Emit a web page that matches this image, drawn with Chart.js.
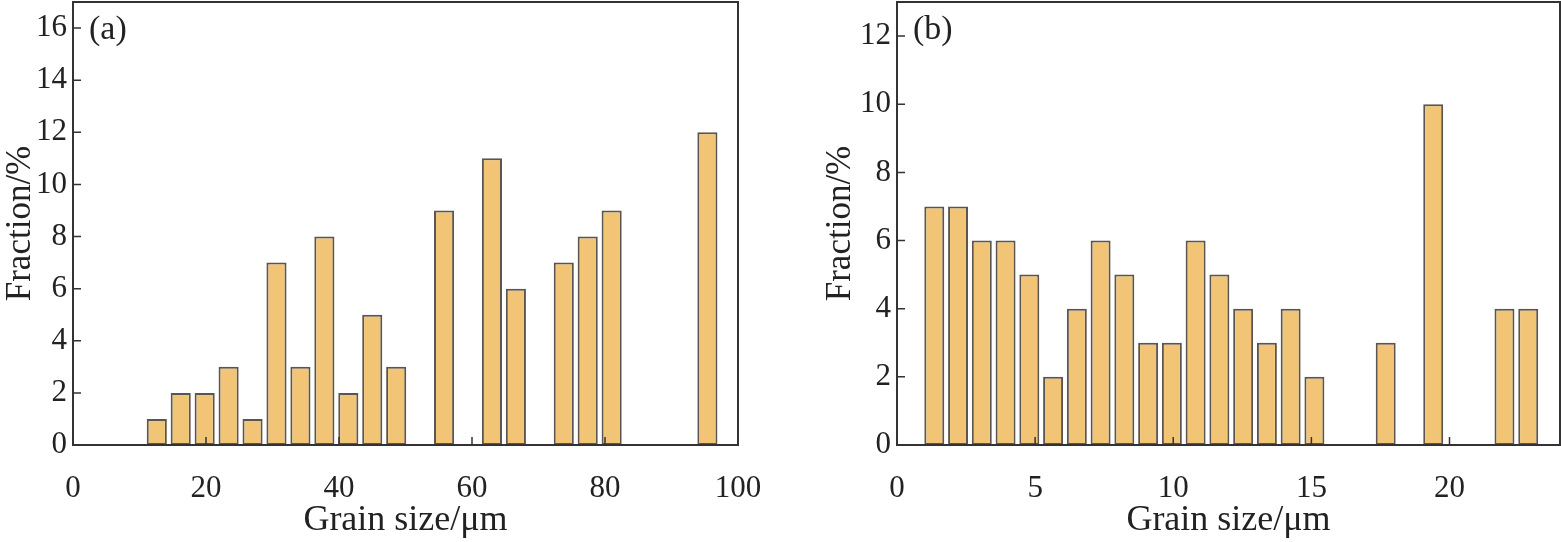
<!DOCTYPE html>
<html>
<head>
<meta charset="utf-8">
<script src="https://cdn.jsdelivr.net/npm/chart.js@4.4.1/dist/chart.umd.min.js"></script>
<style>
  html, body { margin: 0; padding: 0; background: #fff; }
  .panel { position: absolute; top: 0; }
</style>
</head>
<body>
<div class="panel" style="left:0px"><canvas id="chartA" width="790" height="542"></canvas></div>
<div class="panel" style="left:820px"><canvas id="chartB" width="741" height="542"></canvas></div>
<script>
// (a) grain size bins (um) and fractions (%)
const sizeA = [12.6, 16.2, 19.8, 23.4, 27.0, 30.6, 34.2, 37.8, 41.4, 45.0, 48.6, 55.8, 63.0, 66.6, 73.8, 77.4, 81.0, 95.4];
const fracA = [1, 2, 2, 3, 1, 7, 3, 8, 2, 5, 3, 9, 11, 6, 7, 8, 9, 12];

// (b)
const sizeB = [1.35, 2.21, 3.07, 3.93, 4.79, 5.65, 6.51, 7.37, 8.23, 9.09, 9.95, 10.81, 11.67, 12.53, 13.39, 14.25, 15.11, 17.69, 19.41, 21.99, 22.85];
const fracB = [7, 7, 6, 6, 5, 2, 4, 6, 5, 3, 3, 6, 5, 4, 3, 4, 2, 3, 10, 4, 4];

// axis ranges / tick steps
const xRangeA = [0, 100], xStepA = 20, yRangeA = [0, 17], yStepA = 2;
const xRangeB = [0, 24], xStepB = 5, yRangeB = [0, 13], yStepB = 2;

const FONT = "'Liberation Serif', 'Times New Roman', serif";
const AXIS = '#333';
const TEXT = '#222';

// box around the plot, inward ticks and the (a)/(b) label
const framePlugin = {
    id: 'frame',
    afterDatasetsDraw(chart, args, opts) {
        const {ctx, chartArea: {left, top, right, bottom}, scales: {x, y}} = chart;
        ctx.save();
        ctx.strokeStyle = AXIS;
        ctx.lineWidth = 2;
        ctx.strokeRect(left, top, right - left, bottom - top);
        ctx.lineWidth = 1.5;
        ctx.beginPath();
        x.ticks.forEach(t => {
            const px = x.getPixelForValue(t.value);
            if (px > left + 2 && px < right - 2) {
                ctx.moveTo(px, bottom);
                ctx.lineTo(px, bottom - 8);
            }
        });
        y.ticks.forEach(t => {
            const py = y.getPixelForValue(t.value);
            if (py < bottom - 2 && py > top + 2) {
                ctx.moveTo(left, py);
                ctx.lineTo(left + 8, py);
            }
        });
        ctx.stroke();
        ctx.fillStyle = TEXT;
        ctx.font = '34px ' + FONT;
        ctx.textBaseline = 'middle';
        ctx.textAlign = 'left';
        ctx.fillText(opts.text, left + 16, top + 28);
        ctx.restore();
    }
};

function makeChart(id, sizes, fracs, xRange, xStep, yRange, yStep, label, yWidth, padRight) {
    const points = sizes.map((s, i) => ({x: s, y: fracs[i]}));
    return new Chart(document.getElementById(id), {
        type: 'bar',
        data: {
            datasets: [{
                data: points,
                backgroundColor: '#F2C475',
                borderColor: '#5A5550',
                borderWidth: 2,
                borderSkipped: false,
                barPercentage: 0.84,
                categoryPercentage: 1
            }]
        },
        options: {
            responsive: false,
            animation: false,
            layout: { padding: { top: 2, right: padRight, left: 0, bottom: 0 } },
            plugins: {
                legend: { display: false },
                tooltip: { enabled: false },
                frame: { text: label }
            },
            scales: {
                x: {
                    type: 'linear',
                    min: xRange[0],
                    max: xRange[1],
                    offset: false,
                    grid: { display: false, drawTicks: false },
                    border: { display: false },
                    ticks: {
                        stepSize: xStep,
                        includeBounds: false,
                        padding: 25,
                        maxRotation: 0,
                        color: TEXT,
                        font: { family: FONT, size: 31 }
                    },
                    title: {
                        display: true,
                        text: 'Grain size/μm',
                        color: TEXT,
                        padding: 0,
                        font: { family: FONT, size: 36 }
                    },
                    afterFit(scale) {
                        scale.height = 97;
                        scale.paddingLeft = 0;
                        scale.paddingRight = 0;
                    }
                },
                y: {
                    min: yRange[0],
                    max: yRange[1],
                    grid: { display: false, drawTicks: false },
                    border: { display: false },
                    ticks: {
                        stepSize: yStep,
                        includeBounds: false,
                        padding: 6,
                        color: TEXT,
                        font: { family: FONT, size: 31 }
                    },
                    title: {
                        display: true,
                        text: 'Fraction/%',
                        color: TEXT,
                        padding: 0,
                        font: { family: FONT, size: 35 }
                    },
                    afterFit(scale) {
                        scale.width = yWidth;
                        scale.paddingTop = 0;
                        scale.paddingBottom = 0;
                    }
                }
            }
        },
        plugins: [framePlugin]
    });
}

makeChart('chartA', sizeA, fracA, xRangeA, xStepA, yRangeA, yStepA, '(a)', 73, 52);
makeChart('chartB', sizeB, fracB, xRangeB, xStepB, yRangeB, yStepB, '(b)', 77, 1);
</script>
</body>
</html>
